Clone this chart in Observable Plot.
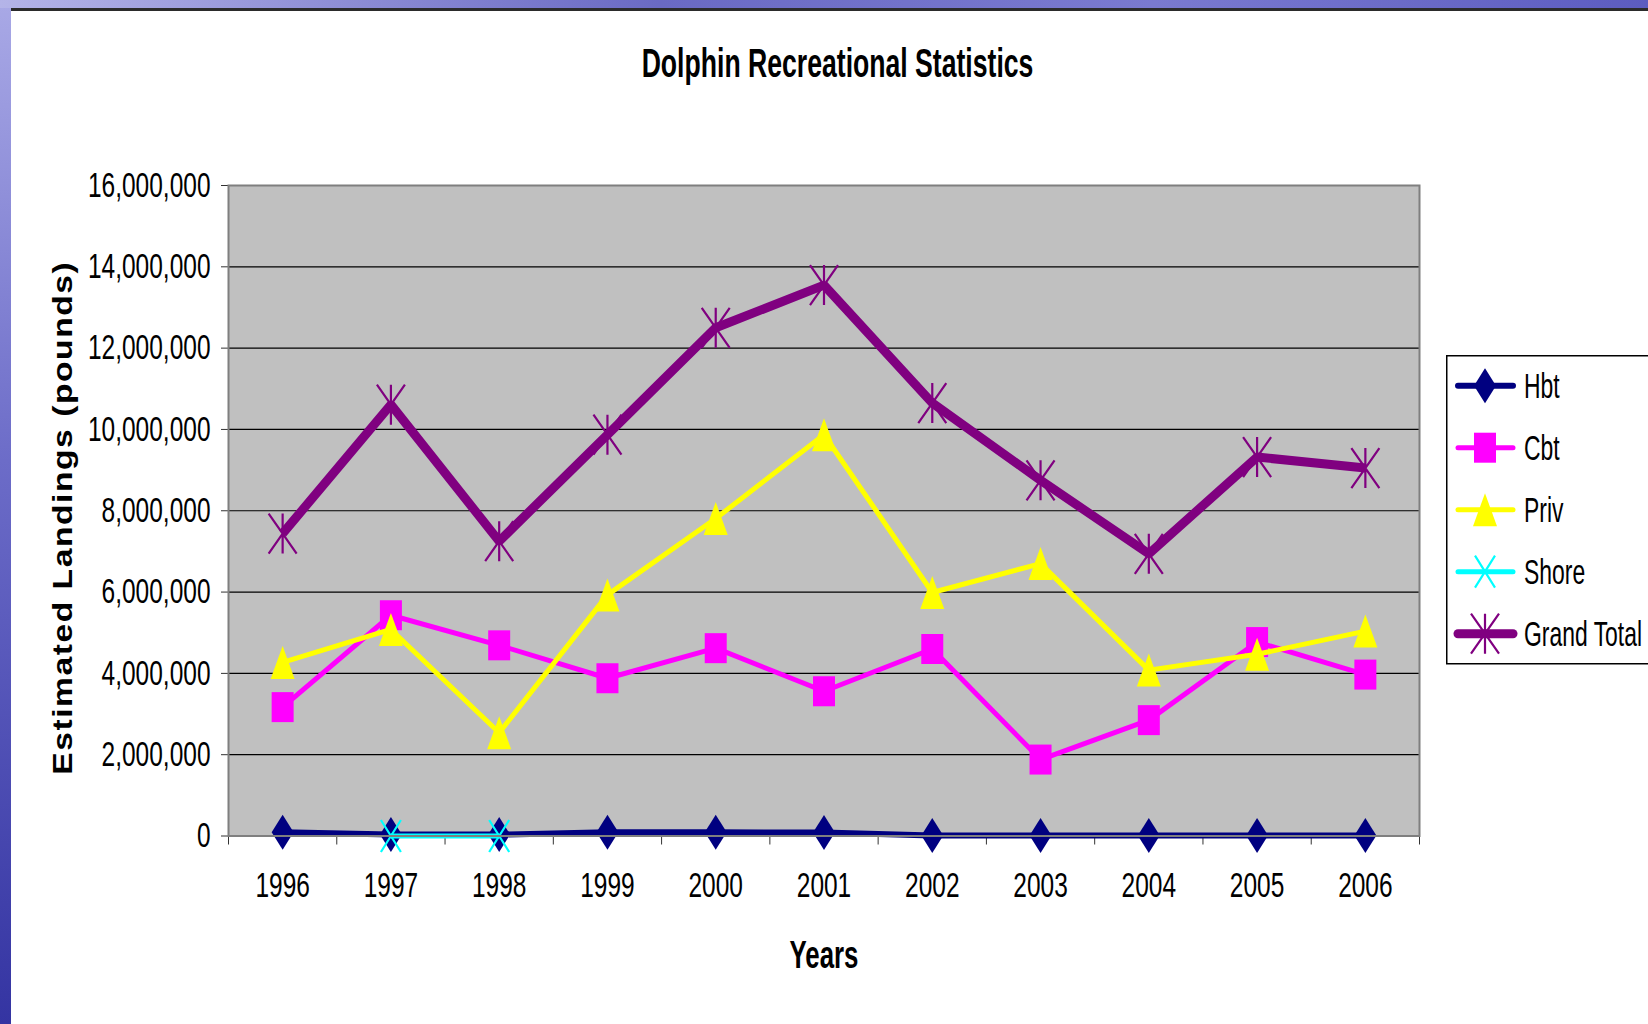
<!DOCTYPE html>
<html>
<head>
<meta charset="utf-8">
<script src="https://cdn.jsdelivr.net/npm/d3@7"></script>
<script src="https://cdn.jsdelivr.net/npm/@observablehq/plot@0.6"></script>
<style>
html, body { margin: 0; padding: 0; width: 1648px; height: 1024px; overflow: hidden; }
body {
  position: relative;
  background: linear-gradient(180deg, #a9a9e6 0%, #6c6cc8 45%, #3434a2 100%);
  font-family: "Liberation Sans", Arial, sans-serif;
}
#topstrip { position: absolute; left: 0; top: 0; width: 1648px; height: 8px;
  background: linear-gradient(90deg, #b4b4e8 0%, #6a6ac4 40%, #7a7ad0 70%, #5c5cc0 100%); }
#panel { position: absolute; left: 11px; top: 8px; width: 1637px; height: 1016px;
  background: #fff; border-top: 3px solid #2b2b2b; box-sizing: border-box; }
#title { position: absolute; left: 0; top: 43px; width: 1676px; text-align: center;
  font-size: 40px; line-height: 40px; font-weight: bold; color: #000; }
#title span { display: inline-block; transform: scaleX(0.665); }
#chart { position: absolute; left: 11px; top: 100px; }
#legend { position: absolute; left: 1446px; top: 355px; }
</style>
</head>
<body>
<div id="topstrip"></div>
<div id="panel"></div>
<div id="title"><span>Dolphin Recreational Statistics</span></div>
<div id="chart"></div>
<div id="legend"></div>
<script>
// ---- data ----
const years = [1996, 1997, 1998, 1999, 2000, 2001, 2002, 2003, 2004, 2005, 2006];
const hbt = [95000, 35000, 35000, 90000, 90000, 85000, 10000, 10000, 10000, 10000, 10000];
const cbt = [3170000, 5430000, 4690000, 3880000, 4620000, 3560000, 4600000, 1880000, 2850000, 4770000, 3970000];
const priv = [4270000, 5080000, 2540000, 5930000, 7810000, 9870000, 5990000, 6700000, 4080000, 4470000, 5040000];
const shoreYears = [1997, 1998];
const shore = [0, 0];
const grandTotal = [7440000, 10610000, 7250000, 9870000, 12500000, 13550000, 10650000, 8750000, 6940000, 9320000, 9050000];

const seriesNames = ["Hbt", "Cbt", "Priv", "Shore", "Grand Total"];
const seriesColors = ["#000080", "#FF00FF", "#FFFF00", "#00FFFF", "#800080"];
const yTicks = [0, 2000000, 4000000, 6000000, 8000000, 10000000, 12000000, 14000000, 16000000];
const xTitle = "Years";
const yTitle = "Estimated Landings (pounds)";

// ---- marker shapes (Excel-like, slightly tall) ----
function shape(kind, w, h) {
  return {
    draw(c) {
      const a = w / 2, b = h / 2;
      if (kind === "diamond") { c.moveTo(0, -b); c.lineTo(a, 0); c.lineTo(0, b); c.lineTo(-a, 0); c.closePath(); }
      else if (kind === "square") { c.rect(-a, -b, w, h); }
      else if (kind === "triangle") { c.moveTo(0, -b); c.lineTo(a, b); c.lineTo(-a, b); c.closePath(); }
      else if (kind === "x") { c.moveTo(-a, -b); c.lineTo(a, b); c.moveTo(a, -b); c.lineTo(-a, b); }
      else if (kind === "star") { c.moveTo(-a, -b); c.lineTo(a, b); c.moveTo(a, -b); c.lineTo(-a, b); c.moveTo(0, -b); c.lineTo(0, b); }
    }
  };
}

const series = [
  {name: seriesNames[0], xs: years, values: hbt, color: seriesColors[0], width: 6, symbol: shape("diamond", 22, 35), filled: true},
  {name: seriesNames[1], xs: years, values: cbt, color: seriesColors[1], width: 5, symbol: shape("square", 22, 30), filled: true},
  {name: seriesNames[2], xs: years, values: priv, color: seriesColors[2], width: 5, symbol: shape("triangle", 24, 33), filled: true},
  {name: seriesNames[3], xs: shoreYears, values: shore, color: seriesColors[3], width: 5, symbol: shape("x", 20, 32), filled: false},
  {name: seriesNames[4], xs: years, values: grandTotal, color: seriesColors[4], width: 9, symbol: shape("star", 28, 40), filled: false}
];

const yearBoundaries = years.map(y => y - 0.5).concat([years[years.length - 1] + 0.5]);

const seriesMarks = [];
for (const s of series) {
  const rows = s.xs.map((x, i) => ({year: x, value: s.values[i]}));
  seriesMarks.push(Plot.line(rows, {x: "year", y: "value", stroke: s.color, strokeWidth: s.width,
    strokeLinejoin: "miter", strokeLinecap: "butt"}));
  seriesMarks.push(Plot.dot(rows, {x: "year", y: "value", symbol: s.symbol, r: 5,
    fill: s.filled ? s.color : "none", stroke: s.filled ? "none" : s.color, strokeWidth: s.filled ? 0 : 2.2}));
}

const chart = Plot.plot({
  width: 1637,
  height: 900,
  marginTop: 85,
  marginBottom: 164.5,
  marginLeft: 217,
  marginRight: 229,
  style: {fontFamily: '"Liberation Sans", Arial, sans-serif', background: "transparent", overflow: "visible", color: "#000"},
  x: {domain: [yearBoundaries[0], yearBoundaries[yearBoundaries.length - 1]], label: null},
  y: {domain: [yTicks[0], yTicks[yTicks.length - 1]], label: null},
  marks: [
    Plot.frame({fill: "#C0C0C0", stroke: "none"}),
    Plot.ruleY(yTicks.slice(1, -1), {stroke: "#000", strokeWidth: 1.2}),
    Plot.axisY(yTicks, {tickSize: 7, tickPadding: 11, fontSize: 35, label: null, stroke: "#333"}),
    Plot.axisX(yearBoundaries, {tickSize: 9, tickFormat: () => "", label: null, stroke: "#333"}),
    Plot.axisX(years, {tickSize: 0, tickPadding: 36, tickFormat: "d", fontSize: 35, label: null}),
    ...seriesMarks,
    Plot.frame({stroke: "#7f7f7f", strokeWidth: 2}),
    Plot.text([xTitle], {text: d => d, frameAnchor: "bottom", dy: 132, fontSize: 38, fontWeight: "bold"}),
    Plot.text([yTitle], {text: d => d, frameAnchor: "left", textAnchor: "middle", dx: -165, dy: 7, rotate: -90, fontSize: 28, fontWeight: "bold"})
  ]
});
chart.style.maxWidth = "none";
document.getElementById("chart").appendChild(chart);

// condensed look of the original text
chart.querySelectorAll("text").forEach(t => {
  const s = t.textContent;
  const tr = t.getAttribute("transform") || "";
  if (s === yTitle) {
    t.setAttribute("transform", tr + " scale(1.2,1)");
    t.style.letterSpacing = "1.3px";
    return;
  }
  const sx = s === xTitle ? 0.68 : 0.7;
  t.setAttribute("transform", tr + ` scale(${sx},1)`);
});

// ---- legend ----
const L = d3.select("#legend").append("svg").attr("width", 202).attr("height", 312)
  .style("font-family", '"Liberation Sans", Arial, sans-serif');
L.append("rect").attr("x", 0.75).attr("y", 0.75).attr("width", 260).attr("height", 308)
  .attr("fill", "#fff").attr("stroke", "#000").attr("stroke-width", 1.5);
series.forEach((s, i) => {
  const y = 30.7 + i * 62;
  L.append("line").attr("x1", 12).attr("x2", 67).attr("y1", y).attr("y2", y)
    .attr("stroke", s.color).attr("stroke-width", s.width).attr("stroke-linecap", "round");
  L.append("path").attr("d", d3.symbol(s.symbol)()).attr("transform", `translate(39,${y})`)
    .attr("fill", s.filled ? s.color : "none").attr("stroke", s.filled ? "none" : s.color)
    .attr("stroke-width", s.filled ? 0 : 2.2);
  L.append("text").attr("transform", `translate(78,${y + 12.5}) scale(0.655,1)`)
    .attr("font-size", 35).attr("fill", "#000").text(s.name);
});
</script>
</body>
</html>
